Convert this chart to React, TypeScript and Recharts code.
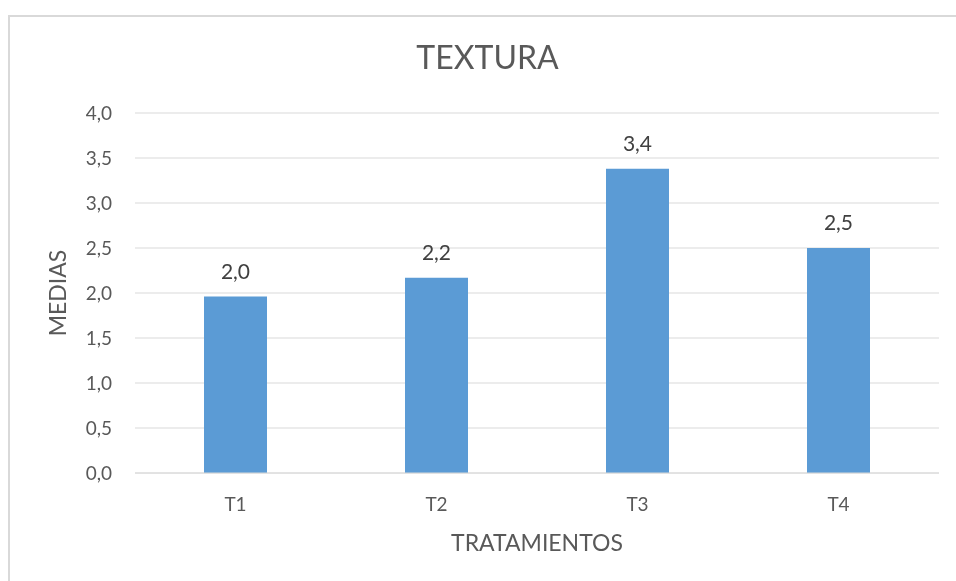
import { BarChart, Bar, XAxis, YAxis, CartesianGrid, LabelList } from "recharts";

const treatments = ["T1", "T2", "T3", "T4"];
const means = [1.96, 2.17, 3.38, 2.5];
const yTicks = [0, 0.5, 1, 1.5, 2, 2.5, 3, 3.5, 4];

const data = treatments.map((t, i) => ({ name: t, media: means[i] }));

const FONT = "Lato, 'Open Sans', sans-serif";
const comma = (v: number) => Number(v).toFixed(1).replace(".", ",");

export default function App() {
  return (
    <div style={{ position: "relative", width: 940, height: 565, fontFamily: FONT }}>
      {/* chart area frame, runs past the window edges */}
      <div
        style={{
          position: "fixed",
          left: 8,
          top: 15,
          width: 1000,
          height: 1000,
          border: "2px solid #d9d9d9",
          boxSizing: "border-box",
        }}
      />
      <div
        style={{
          position: "absolute",
          left: 0,
          width: 959,
          top: 29,
          textAlign: "center",
          fontSize: 32,
          color: "#595959",
          lineHeight: "40px",
        }}
      >
        TEXTURA
      </div>
      <BarChart
        width={940}
        height={565}
        data={data}
        margin={{ top: 105, right: 9, left: 0, bottom: 0 }}
        style={{ position: "absolute", left: 0, top: 0 }}
      >
        <CartesianGrid vertical={false} stroke="#d9d9d9" />
        <XAxis
          dataKey="name"
          height={100}
          axisLine={{ stroke: "#d9d9d9" }}
          tickLine={false}
          tickSize={0}
          tickMargin={25}
          tick={{ fill: "#595959", fontSize: 19, fontFamily: FONT }}
          label={{
            value: "TRATAMIENTOS",
            position: "insideBottom",
            offset: 22,
            fill: "#595959",
            fontSize: 23,
            fontFamily: FONT,
          }}
        />
        <YAxis
          width={127}
          domain={[0, 4]}
          ticks={yTicks}
          tickFormatter={comma}
          axisLine={false}
          tickLine={false}
          tickSize={0}
          tickMargin={23}
          tick={{ fill: "#595959", fontSize: 19, fontFamily: FONT }}
          label={{
            value: "MEDIAS",
            angle: -90,
            position: "insideLeft",
            offset: 50,
            fill: "#595959",
            fontSize: 23,
            fontFamily: FONT,
            style: { textAnchor: "middle" },
          }}
        />
        <Bar dataKey="media" fill="#5b9bd5" barSize={63} isAnimationActive={false}>
          <LabelList
            dataKey="media"
            position="top"
            offset={18}
            formatter={(v: any) => comma(v)}
            fill="#404040"
            fontSize={21}
            fontFamily={FONT}
          />
        </Bar>
      </BarChart>
    </div>
  );
}
